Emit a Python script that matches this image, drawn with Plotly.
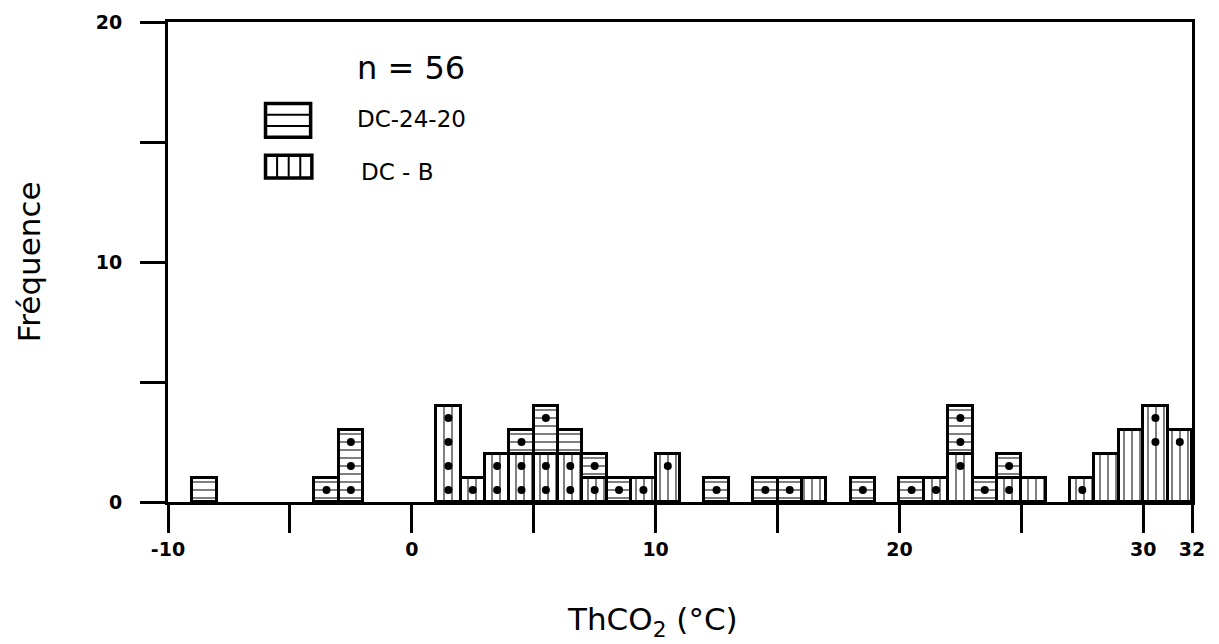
import plotly.graph_objects as go

# ---- data (bin left edges, counts per 1 °C bin) ----
dc24_bins = [-9, -4, -3, 4, 5, 6, 7, 8, 12, 14, 15, 18, 20, 22, 23, 24]
dc24_counts = [1, 1, 3, 1, 2, 1, 1, 1, 1, 1, 1, 1, 1, 2, 1, 1]
dcb_bins = [1, 2, 3, 4, 5, 6, 7, 9, 10, 16, 21, 22, 24, 25, 27, 28, 29, 30, 31]
dcb_counts = [4, 1, 2, 2, 2, 2, 1, 1, 2, 1, 1, 2, 1, 1, 1, 2, 3, 4, 3]
# dotted cells (bin left edge, cell level)
dot_bins = [-4, -3, -3, -3, 1, 1, 1, 1, 2, 3, 3, 4, 4, 4, 5, 5, 5, 6, 6, 7, 7, 8, 9, 10,
            12, 14, 15, 18, 20, 21, 22, 22, 22, 23, 24, 24, 27, 30, 30, 31]
dot_levels = [0, 0, 1, 2, 0, 1, 2, 3, 0, 0, 1, 0, 1, 2, 0, 1, 3, 0, 1, 0, 1, 0, 0, 1,
              0, 0, 0, 0, 0, 0, 1, 2, 3, 0, 0, 1, 0, 2, 3, 2]
x_tickvals = [-10, 0, 10, 20, 30, 32]
x_ticktext = ["-10", "0", "10", "20", "30", "32"]
y_tickvals = [0, 10, 20]
y_ticktext = ["0", "10", "20"]

FONT = "DejaVu Sans"
fig = go.Figure()

fig.add_trace(go.Bar(
    x=[b + 0.5 for b in dcb_bins], y=dcb_counts, width=1, name="DC-B",
    marker=dict(color="white", line=dict(color="black", width=3.5),
                pattern=dict(shape="|", size=8, solidity=0.25, fgcolor="black", bgcolor="white")),
    showlegend=False))
fig.add_trace(go.Bar(
    x=[b + 0.5 for b in dc24_bins], y=dc24_counts, width=1, name="DC-24-20",
    marker=dict(color="white", line=dict(color="black", width=3.5),
                pattern=dict(shape="-", size=8, solidity=0.25, fgcolor="black", bgcolor="white")),
    showlegend=False))
fig.add_trace(go.Scatter(
    x=[b + 0.5 for b in dot_bins], y=[l + 0.5 for l in dot_levels], mode="markers",
    marker=dict(color="black", size=8), showlegend=False, hoverinfo="skip"))

# legend swatches (decoration)
shapes = []
hx0, hx1, hy0, hy1 = -6.0, -4.15, 15.2, 16.6
shapes.append(dict(type="rect", xref="x", yref="y", x0=hx0, x1=hx1, y0=hy0, y1=hy1,
                   line=dict(color="black", width=3.5)))
for k in (1, 2):
    yy = hy0 + k * (hy1 - hy0) / 3
    shapes.append(dict(type="line", xref="x", yref="y", x0=hx0, x1=hx1, y0=yy, y1=yy,
                       line=dict(color="black", width=2)))
vx0, vx1, vy0, vy1 = -6.0, -4.1, 13.5, 14.45
shapes.append(dict(type="rect", xref="x", yref="y", x0=vx0, x1=vx1, y0=vy0, y1=vy1,
                   line=dict(color="black", width=3.5)))
for k in (1, 2, 3):
    xx = vx0 + k * (vx1 - vx0) / 4
    shapes.append(dict(type="line", xref="x", yref="y", x0=xx, x1=xx, y0=vy0, y1=vy1,
                       line=dict(color="black", width=2)))

annotations = [
    dict(x=-2.35, y=18.1, xref="x", yref="y", text="n = 56", showarrow=False, xanchor="left",
         font=dict(family=FONT, size=32, color="black")),
    dict(x=-2.35, y=15.95, xref="x", yref="y", text="DC-24-20", showarrow=False, xanchor="left",
         font=dict(family=FONT, size=23, color="black")),
    dict(x=-2.15, y=13.75, xref="x", yref="y", text="DC - B", showarrow=False, xanchor="left",
         font=dict(family=FONT, size=23, color="black")),
    dict(x=-0.155, y=0.5, xref="paper", yref="paper", text="Fréquence", textangle=-90,
         showarrow=False, font=dict(family=FONT, size=31, color="black")),
    dict(x=0.473, y=-0.295, xref="paper", yref="paper", text="ThCO<sub>2</sub> (°C)",
         showarrow=False, font=dict(family=FONT, size=31, color="black")),
]

fig.update_layout(
    width=1219, height=644, barmode="stack", bargap=0,
    margin=dict(l=168, r=27, t=22, b=142),
    plot_bgcolor="white", paper_bgcolor="white",
    shapes=shapes, annotations=annotations,
    xaxis=dict(range=[-10, 32], showgrid=False, zeroline=False, showline=True, linecolor="black",
               linewidth=3, mirror=True, ticks="outside", ticklen=28, tickwidth=2.5, tickcolor="black",
               tickvals=x_tickvals, ticktext=x_ticktext,
               minor=dict(tick0=0, dtick=5, ticks="outside", ticklen=28, tickwidth=2.5,
                          tickcolor="black", showgrid=False),
               tickfont=dict(family=FONT, size=19, color="black", weight="bold")),
    yaxis=dict(range=[0, 20], showgrid=False, zeroline=False, showline=True, linecolor="black",
               linewidth=3, mirror=True, ticks="outside", ticklen=25, tickwidth=2.5, tickcolor="black",
               tickvals=y_tickvals, ticktext=y_ticktext, ticklabelstandoff=14,
               minor=dict(tick0=0, dtick=5, ticks="outside", ticklen=25, tickwidth=2.5,
                          tickcolor="black", showgrid=False),
               tickfont=dict(family=FONT, size=19, color="black", weight="bold")),
)

fig.write_html("out.html")
